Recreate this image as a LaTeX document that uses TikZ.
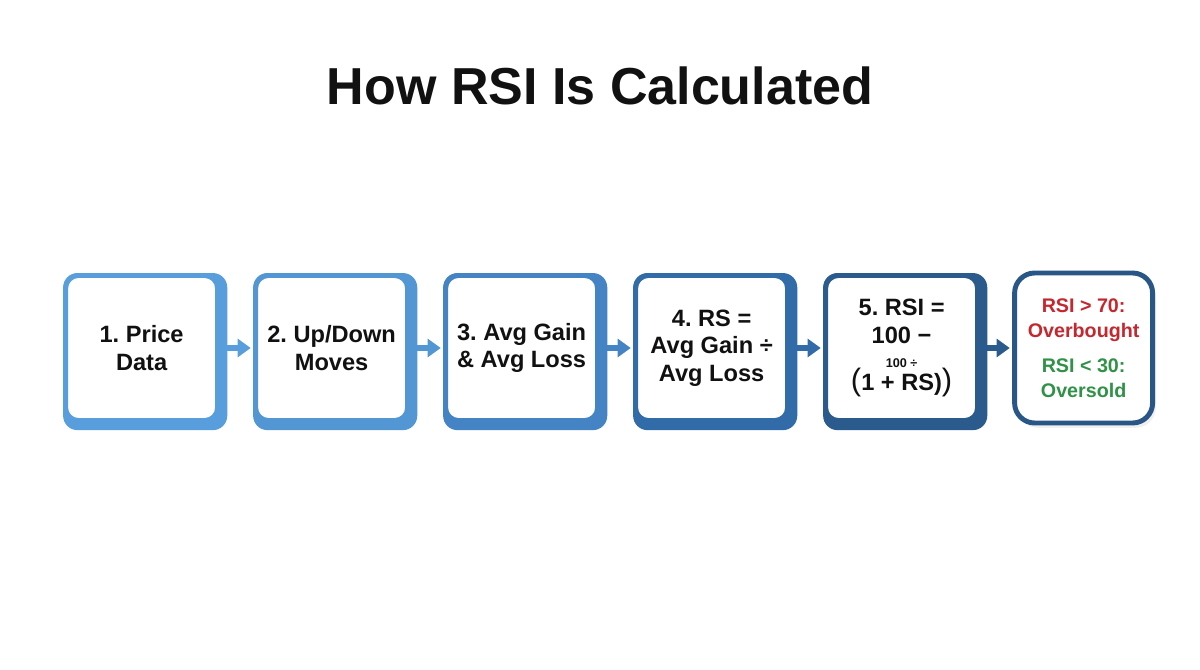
\documentclass[tikz,border=0pt]{standalone}
\usepackage{fontspec}
\setmainfont{Liberation Sans}
\frenchspacing
\usepackage{xcolor}
\usepackage{tikz}
\usetikzlibrary{arrows.meta, shadows, backgrounds, calc}
\definecolor{pricecolor}{RGB}{88,158,220}
\definecolor{movecolor}{RGB}{82,150,212}
\definecolor{avgcolor}{RGB}{68,131,196}
\definecolor{rscolor}{RGB}{50,108,168}
\definecolor{rsicolor}{RGB}{43,90,140}
\definecolor{zonecolor}{RGB}{40,86,135}
\definecolor{overboughtred}{RGB}{196,40,46}
\definecolor{oversoldgreen}{RGB}{47,146,71}
\definecolor{inkblack}{RGB}{17,17,17}

\begin{document}
\begin{tikzpicture}[
    box/.style={draw=#1, line width=3.5pt, rounded corners=0.32cm, fill=white, minimum width=3.8cm, minimum height=3.625cm, align=center, text=inkblack, font=\fontsize{16.8}{19.6}\selectfont\bfseries},
    zone/.style={draw=zonecolor, line width=3.5pt, rounded corners=0.5cm, fill=white, minimum width=3.45cm, minimum height=3.75cm, align=center, font=\fontsize{14}{17.8}\selectfont\bfseries, drop shadow={opacity=0.12, shadow xshift=0.08cm, shadow yshift=-0.12cm}},
    edge3d/.style={fill=#1, rounded corners=0.36cm},
    flow/.style={draw=#1, line width=4.3pt, -{Triangle[length=0.33cm, width=0.45cm]}, shorten >=0.06cm}
]
    \useasboundingbox (0,0) rectangle (30,-16.75);

    % Title
    \node[font=\fontsize{37}{44}\selectfont\bfseries, text=inkblack, anchor=base] (title) at (15,-2.625) {How RSI Is Calculated};

    % Steps
    \node[box=pricecolor] (price) at (3.54,-8.7) {1. Price\\Data};
    \node[box=movecolor] (moves) at (8.29,-8.7) {2. Up/Down\\Moves};
    \node[box=avgcolor] (avg) at (13.04,-8.7) {3. Avg Gain\\\& Avg Loss};
    \node[box=rscolor] (rs) at (17.79,-8.7) {4. RS =\\Avg Gain ÷\\Avg Loss};
    \node[box=rsicolor] (rsi) at (22.54,-8.7) {5. RSI =\\100 −\\[10pt]{\mdseries\fontsize{22}{22}\selectfont(}\shortstack{{\fontsize{9}{9}\selectfont 100 ÷}\\[1pt]1 + RS)}{\mdseries\fontsize{22}{22}\selectfont)}};

    % Zones
    \node[zone] (zones) at (27.09,-8.7) {\textcolor{overboughtred}{RSI > 70:}\\\textcolor{overboughtred}{Overbought}\\[7pt]\textcolor{oversoldgreen}{RSI < 30:}\\\textcolor{oversoldgreen}{Oversold}};

    \begin{scope}[on background layer]
        % thick right and bottom edges
        \fill[edge3d=pricecolor] (price.north west) rectangle ($(price.south east)+(0.18,-0.18)$);
        \fill[edge3d=movecolor] (moves.north west) rectangle ($(moves.south east)+(0.18,-0.18)$);
        \fill[edge3d=avgcolor] (avg.north west) rectangle ($(avg.south east)+(0.18,-0.18)$);
        \fill[edge3d=rscolor] (rs.north west) rectangle ($(rs.south east)+(0.18,-0.18)$);
        \fill[edge3d=rsicolor] (rsi.north west) rectangle ($(rsi.south east)+(0.18,-0.18)$);

        \draw[flow=pricecolor] (price.east) -- (moves.west);
        \draw[flow=movecolor] (moves.east) -- (avg.west);
        \draw[flow=avgcolor] (avg.east) -- (rs.west);
        \draw[flow=rscolor] (rs.east) -- (rsi.west);
        \draw[flow=rsicolor] (rsi.east) -- (zones.west);
    \end{scope}
\end{tikzpicture}
\end{document}
